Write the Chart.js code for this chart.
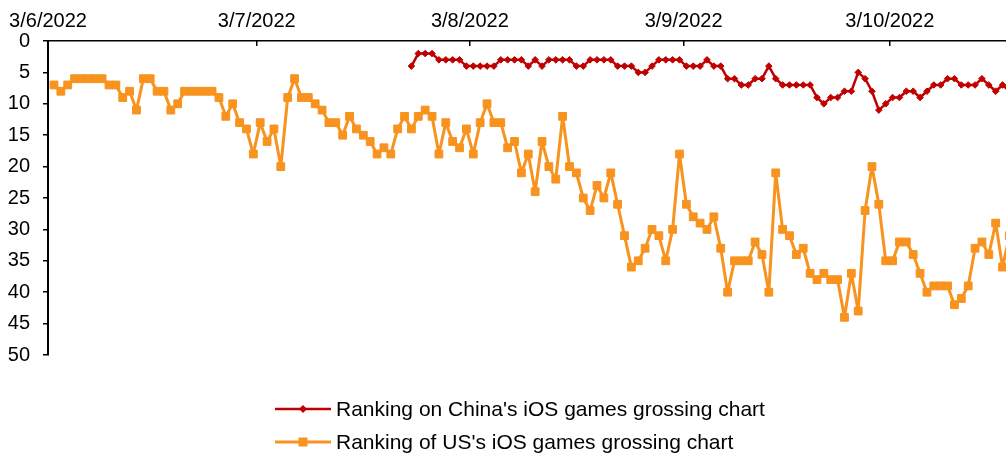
<!DOCTYPE html>
<html>
<head>
<meta charset="utf-8">
<script src="https://cdn.jsdelivr.net/npm/chart.js@4/dist/chart.umd.min.js"></script>
<style>
  body { margin: 0; background: #fff; }
  #wrap { position: relative; width: 1006px; height: 453px; }
  #legend { position: absolute; left: 275px; top: 392px; font: 21px "Liberation Sans", Arial, sans-serif; color: #000; }
  #legend .row { display: flex; align-items: center; height: 33px; white-space: nowrap; }
  #legend svg { margin-right: 5px; }
</style>
</head>
<body>
<div id="wrap">
  <canvas id="rankChart" width="1006" height="453"></canvas>
  <div id="legend"></div>
</div>
<script>
'use strict'

const dayLabels = ['3/6/2022', '3/7/2022', '3/8/2022', '3/9/2022', '3/10/2022'];
// where each day starts, in data slots
const dayTickSlot = [-0.87, 29.5, 60.5, 91.6, 121.6];

const seriesNames = ["Ranking on China's iOS games grossing chart", "Ranking of US's iOS games grossing chart"];
const seriesColors = ['#C00000', '#F7931E'];

const usRank = [
  7, 8, 7, 6, 6, 6, 6, 6, 7, 7, 9, 8, 11, 6, 6, 8, 8, 11, 10, 8,
  8, 8, 8, 8, 9, 12, 10, 13, 14, 18, 13, 16, 14, 20, 9, 6, 9, 9, 10, 11,
  13, 13, 15, 12, 14, 15, 16, 18, 17, 18, 14, 12, 14, 12, 11, 12, 18, 13, 16, 17,
  14, 18, 13, 10, 13, 13, 17, 16, 21, 18, 24, 16, 20, 22, 12, 20, 21, 25, 27, 23,
  25, 21, 26, 31, 36, 35, 33, 30, 31, 35, 30, 18, 26, 28, 29, 30, 28, 33, 40, 35,
  35, 35, 32, 34, 40, 21, 30, 31, 34, 33, 37, 38, 37, 38, 38, 44, 37, 43, 27, 20,
  26, 35, 35, 32, 32, 34, 37, 40, 39, 39, 39, 42, 41, 39, 33, 32, 34, 29, 36, 31
];

const chinaRank = [
  null, null, null, null, null, null, null, null, null, null, null, null, null, null, null, null, null, null, null, null,
  null, null, null, null, null, null, null, null, null, null, null, null, null, null, null, null, null, null, null, null,
  null, null, null, null, null, null, null, null, null, null, null, null, 4, 2, 2, 2, 3, 3, 3, 3,
  4, 4, 4, 4, 4, 3, 3, 3, 3, 4, 3, 4, 3, 3, 3, 3, 4, 4, 3, 3,
  3, 3, 4, 4, 4, 5, 5, 4, 3, 3, 3, 3, 4, 4, 4, 3, 4, 4, 6, 6,
  7, 7, 6, 6, 4, 6, 7, 7, 7, 7, 7, 9, 10, 9, 9, 8, 8, 5, 6, 8,
  11, 10, 9, 9, 8, 8, 9, 8, 7, 7, 6, 6, 7, 7, 7, 6, 7, 8, 7, 8
];

const slots = usRank.map((_, i) => i);

const font = { family: '"Liberation Sans", Arial, sans-serif', size: 20 };

new Chart(document.getElementById('rankChart'), {
  type: 'line',
  data: {
    labels: slots,
    datasets: [{
      label: seriesNames[0],
      data: chinaRank,
      borderColor: seriesColors[0],
      backgroundColor: seriesColors[0],
      borderWidth: 2.5,
      borderJoinStyle: 'round',
      pointStyle: 'rectRot',
      pointRadius: 3.3,
      pointBorderWidth: 1,
      pointHoverRadius: 3.3
    }, {
      label: seriesNames[1],
      data: usRank,
      borderColor: seriesColors[1],
      backgroundColor: seriesColors[1],
      borderWidth: 3,
      borderJoinStyle: 'round',
      pointStyle: 'rect',
      pointRadius: 5.5,
      pointBorderWidth: 1,
      pointHoverRadius: 5.5
    }]
  },
  options: {
    responsive: false,
    animation: false,
    events: [],
    layout: { autoPadding: false, padding: { left: 0, right: 0, top: 0, bottom: 98 } },
    plugins: {
      legend: { display: false },
      tooltip: { enabled: false }
    },
    scales: {
      x: {
        type: 'linear',
        position: 'top',
        min: -0.87,
        max: 138.5,
        afterBuildTicks: scale => { scale.ticks = dayTickSlot.map(v => ({ value: v })); },
        afterFit: scale => {
          scale.height = 41;
          scale.paddingLeft = 0;
          scale.paddingRight = 0;
        },
        // small day ticks hang down into the plot, like the original
        grid: { display: true, drawOnChartArea: false, drawTicks: true, tickLength: -5, color: '#000', lineWidth: 1.5 },
        border: { display: true, color: '#000', width: 1.5 },
        ticks: {
          font: font,
          color: '#000',
          padding: 13,
          maxRotation: 0,
          autoSkip: false,
          callback: (value, index) => dayLabels[index]
        }
      },
      y: {
        reverse: true,
        min: 0,
        max: 50,
        afterFit: scale => { scale.width = 48; },
        grid: { display: true, drawOnChartArea: false, drawTicks: true, tickLength: 5, color: '#000', lineWidth: 1.5 },
        border: { display: true, color: '#000', width: 2 },
        ticks: { stepSize: 5, font: font, color: '#000', padding: 13 }
      }
    }
  }
});

// legend, stacked like the original
const legend = document.getElementById('legend');
const markers = [
  '<polygon points="28,3 32,7 28,11 24,7" fill="#C00000"/>',
  '<rect x="23.5" y="2.5" width="9" height="9" fill="#F7931E"/>'
];
seriesNames.forEach((name, i) => {
  const row = document.createElement('div');
  row.className = 'row';
  row.innerHTML = '<svg width="56" height="14"><line x1="0" y1="7" x2="56" y2="7" stroke="' + seriesColors[i] +
    '" stroke-width="' + (i === 0 ? 2.5 : 3) + '"/>' + markers[i] + '</svg><span>' + name.replace(/'/g, '&#39;') + '</span>';
  legend.appendChild(row);
});
</script>
</body>
</html>
